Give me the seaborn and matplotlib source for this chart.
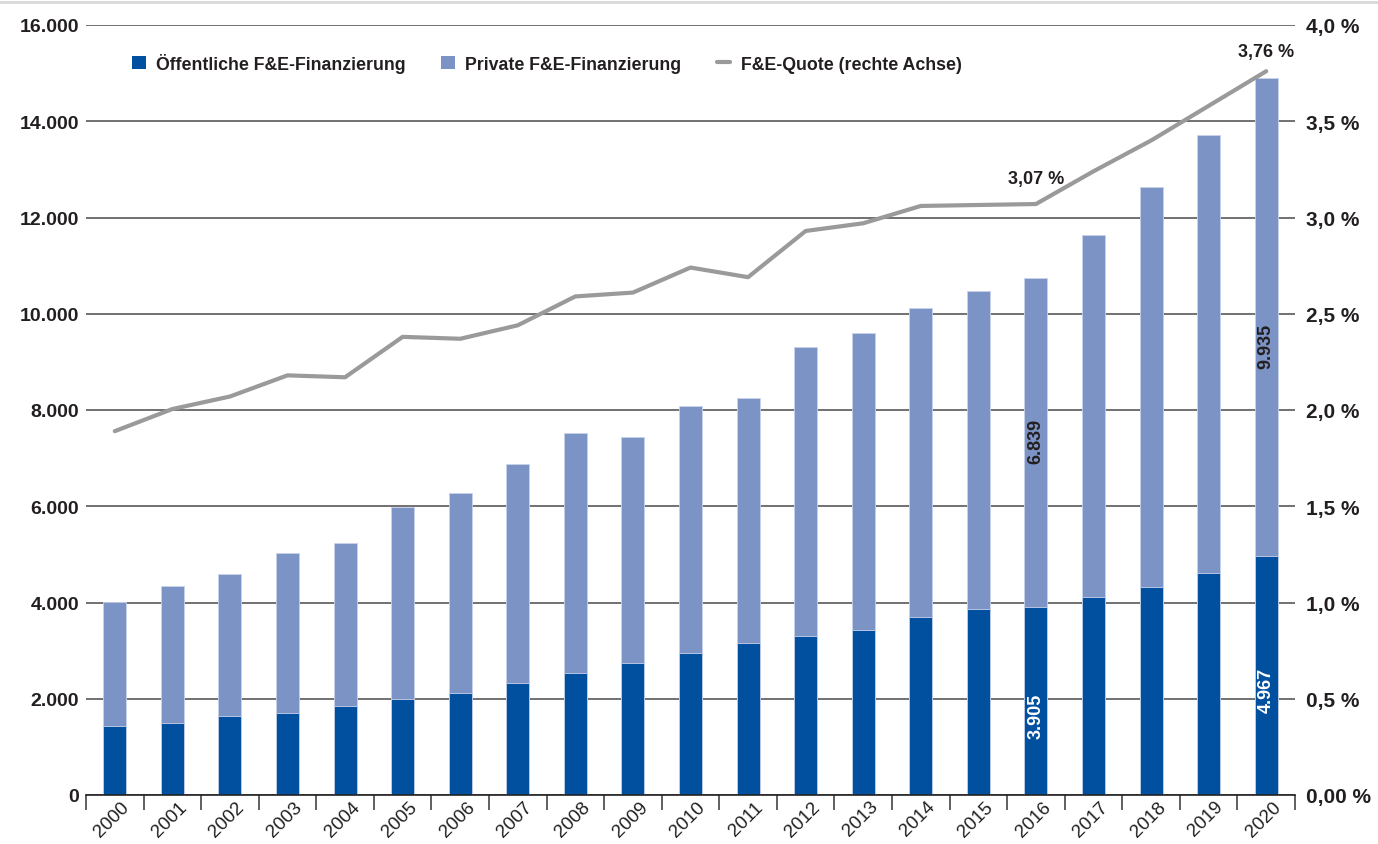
import numpy as np
import pandas as pd
import matplotlib
matplotlib.use("Agg")
import matplotlib.pyplot as plt
from matplotlib.lines import Line2D
from matplotlib.patches import Patch
import matplotlib.transforms as mtransforms
import seaborn as sns

years = [str(y) for y in range(2000, 2021)]
public = [1440, 1503, 1642, 1711, 1850, 1988, 2126, 2334, 2542, 2743, 2950,
          3158, 3304, 3429, 3699, 3865, 3905, 4121, 4322, 4607, 4967]
private = [2570, 2834, 2950, 3318, 3387, 3997, 4150, 4545, 4980, 4696, 5133,
           5092, 6005, 6171, 6421, 6608, 6839, 7516, 8312, 9108, 9935]
quote = [1.89, 2.005, 2.07, 2.18, 2.17, 2.38, 2.37, 2.44, 2.59, 2.61, 2.74,
         2.69, 2.93, 2.97, 3.06, 3.065, 3.07, 3.24, 3.40, 3.58, 3.76]
left_ticks = [0, 2000, 4000, 6000, 8000, 10000, 12000, 14000, 16000]
left_labels = ["0", "2.000", "4.000", "6.000", "8.000", "10.000", "12.000", "14.000", "16.000"]
right_ticks = [0, 0.5, 1.0, 1.5, 2.0, 2.5, 3.0, 3.5, 4.0]
right_labels = ["0,00 %", "0,5 %", "1,0 %", "1,5 %", "2,0 %", "2,5 %", "3,0 %", "3,5 %", "4,0 %"]
legend_labels = ["Öffentliche F&E-Finanzierung", "Private F&E-Finanzierung", "F&E-Quote (rechte Achse)"]

DARK = "#00509F"
LIGHT = "#7B93C5"
LINE = "#9A9A9A"
TXT = "#231F20"

sns.set_theme(style="white")
plt.rcParams["font.family"] = ["Liberation Sans Narrow", "Liberation Sans", "DejaVu Sans"]

df = pd.DataFrame({"year": years, "public": public, "private": private, "quote": quote})
df["total"] = df["public"] + df["private"]

fig = plt.figure(figsize=(13.78, 8.45), dpi=100)
ax = fig.add_axes([86 / 1378, 1 - 796 / 845, (1295 - 86) / 1378, (796 - 26) / 845])

sns.barplot(data=df, x="year", y="total", color=LIGHT, saturation=1, width=0.4,
            edgecolor="#C9D3EA", linewidth=0.6, ax=ax, order=years)
sns.barplot(data=df, x="year", y="public", color=DARK, saturation=1, width=0.4,
            edgecolor="#C9D3EA", linewidth=0.6, ax=ax, order=years)

ax.set_xlim(-0.5, len(years) - 0.5)
ax.set_ylim(0, 16000)
ax.set_yticks(left_ticks)
ax.set_yticklabels(left_labels, fontsize=14, fontweight="bold", color=TXT)
ax.yaxis.grid(True, color="#4a4a4a", linewidth=1.1)
ax.set_axisbelow(True)
ax.set_xlabel("")
ax.set_ylabel("")
for s in ["left", "right", "top"]:
    ax.spines[s].set_visible(False)
ax.spines["bottom"].set_color("#222222")
ax.spines["bottom"].set_linewidth(1.2)

# x ticks at category boundaries, labels at bar centers
ax.set_xticks(np.arange(len(years)))
ax.set_xticklabels(years, rotation=45, ha="right", rotation_mode="anchor",
                   fontsize=13.5, color=TXT)
ax.tick_params(axis="x", length=0, pad=2)
offset = mtransforms.ScaledTranslation(6 / 100, 0, fig.dpi_scale_trans)
for lbl in ax.get_xticklabels():
    lbl.set_transform(lbl.get_transform() + offset)
ax.set_xticks(np.arange(-0.5, len(years)), minor=True)
ax.tick_params(axis="x", which="minor", length=11, width=1.2, color="#444444", bottom=True)
ax.tick_params(axis="y", length=0, pad=5)

# bar labels
idx16 = years.index("2016")
idx20 = years.index("2020")
for i in (idx16, idx20):
    ax.text(i, public[i] / 2 - 300, f"{public[i]:,}".replace(",", "."), rotation=90,
            ha="center", va="center", color="white", fontsize=13, fontweight="bold")
ax.text(idx16, public[idx16] + private[idx16] / 2 + 50, f"{private[idx16]:,}".replace(",", "."),
        rotation=90, ha="center", va="center", color=TXT, fontsize=13, fontweight="bold")
ax.text(idx20, public[idx20] + private[idx20] / 2 - 600, f"{private[idx20]:,}".replace(",", "."),
        rotation=90, ha="center", va="center", color=TXT, fontsize=13, fontweight="bold")

# right axis line
ax2 = ax.twinx()
sns.lineplot(x=np.arange(len(years)), y=df["quote"], color=LINE, linewidth=3, ax=ax2)
ax2.set_ylim(0, 4.0)
ax2.set_xlim(-0.5, len(years) - 0.5)
ax2.set_yticks(right_ticks)
ax2.set_yticklabels(right_labels, fontsize=15, fontweight="bold", color=TXT)
ax2.tick_params(axis="y", length=0, pad=8)
ax2.set_ylabel("")
for s in ["left", "right", "top", "bottom"]:
    ax2.spines[s].set_visible(False)
ax2.grid(False)

ax2.annotate("3,07 %", (idx16, quote[idx16]), xytext=(0, 12), textcoords="offset points",
             ha="center", va="bottom", fontsize=13, fontweight="bold", color=TXT)
ax2.annotate("3,76 %", (idx20, quote[idx20]), xytext=(0, 8), textcoords="offset points",
             ha="center", va="bottom", fontsize=13, fontweight="bold", color=TXT)

handles = [Patch(facecolor=DARK, edgecolor="none"),
           Patch(facecolor=LIGHT, edgecolor="none"),
           Line2D([0], [0], color=LINE, linewidth=3)]
leg = ax2.legend(handles, legend_labels, loc="upper left", bbox_to_anchor=(0.025, 0.985),
                 ncol=3, frameon=False, fontsize=12.8, handlelength=0.75, handleheight=0.75,
                 columnspacing=2.0, handletextpad=0.6)
for t in leg.get_texts():
    t.set_fontweight("bold")
    t.set_color(TXT)
leg.legend_handles[2].set_linewidth(3)

fig.add_artist(Line2D([0, 1], [1 - 3 / 845, 1 - 3 / 845], transform=fig.transFigure,
                      color="#D9D9D9", linewidth=2))

fig.savefig("out.png", dpi=100, facecolor="white")
